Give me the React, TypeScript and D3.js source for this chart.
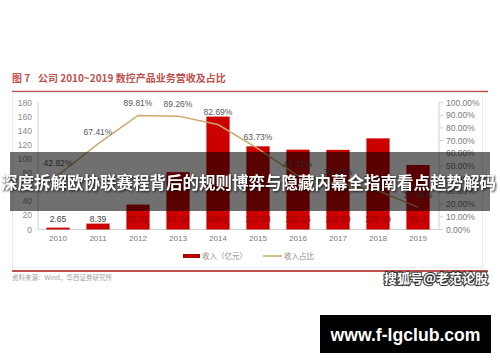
import React from "react";
import * as d3 from "d3";

const years = ["2010", "2011", "2012", "2013", "2014", "2015", "2016", "2017", "2018", "2019"];
const revenue = [2.65, 8.39, 35.31, 81.24, 160.1, 117.88, 113.15, 112.89, 129.19, 91.4];
const share = [0.4282, 0.6741, 0.8981, 0.8926, 0.8269, 0.6373, 0.4231, 0.362, 0.305, 0.176];
const shareLabels = ["42.82%", "67.41%", "89.81%", "89.26%", "82.69%", "63.73%", "42.31%", "36.20%", "30.50%", "17.60%"];
const leftTicks = [0, 20, 40, 60, 80, 100, 120, 140, 160, 180];
const rightTicks = [0, 0.1, 0.2, 0.3, 0.4, 0.5, 0.6, 0.7, 0.8, 0.9, 1.0];

const SANS = "'Liberation Sans', Arial, sans-serif";
const CJK = "'Noto Sans CJK SC', 'Liberation Sans', sans-serif";

export default function App() {
  const x = d3.scaleBand<string>().domain(years).range([38, 438]).paddingInner(0.42).paddingOuter(0.21);
  const yL = d3.scaleLinear().domain([0, 180]).range([229.5, 102.5]);
  const yR = d3.scaleLinear().domain([0, 1]).range([229.5, 102.5]);
  const cx = (d: string) => (x(d) as number) + x.bandwidth() / 2;
  const line = d3
    .line<number>()
    .x((_, i) => cx(years[i]))
    .y((d) => yR(d));

  return (
    <svg width={500} height={362} style={{ position: "absolute", left: 0, top: 0, background: "#fff" }}>
      <rect x={0} y={0} width={500} height={362} fill="#fff" />
      {/* title */}
      <text x={12} y={81.5} fontFamily={CJK} fontSize={10} fontWeight="bold" fill="#c0504d">
        图 7
      </text>
      <text x={38} y={81.5} fontFamily={CJK} fontSize={10} fontWeight="bold" fill="#c0504d">
        公司 2010~2019 数控产品业务营收及占比
      </text>
      <line x1={12} x2={488} y1={91.5} y2={91.5} stroke="#c0504d" strokeWidth={1.6} />
      {/* chart box */}
      <rect x={12.5} y={92.5} width={470} height={175} fill="none" stroke="#ececec" strokeWidth={1} />

      {/* axes */}
      <line x1={38} x2={38} y1={yL(180)} y2={yL(0)} stroke="#d0d0d0" />
      <line x1={439} x2={439} y1={yR(1)} y2={yR(0)} stroke="#d0d0d0" />
      <line x1={38} x2={439} y1={yL(0)} y2={yL(0)} stroke="#d0d0d0" />
      {leftTicks.map((t) => (
        <text key={t} x={32} y={yL(t) + 3} textAnchor="end" fontFamily={SANS} fontSize={8.5} fill="#8c8c8c">
          {t}
        </text>
      ))}
      {rightTicks.map((t) => (
        <g key={t}>
          <line x1={439} x2={443} y1={yR(t)} y2={yR(t)} stroke="#d0d0d0" />
          <text x={446} y={yR(t) + 3} fontFamily={SANS} fontSize={8.5} fill="#7a7a7a">
            {(t * 100).toFixed(2)}%
          </text>
        </g>
      ))}
      {years.map((y) => (
        <text key={y} x={cx(y)} y={241} textAnchor="middle" fontFamily={SANS} fontSize={8} fill="#7a7a7a">
          {y}
        </text>
      ))}

      {/* bars */}
      {revenue.map((v, i) => (
        <rect key={i} x={x(years[i])} y={yL(v)} width={x.bandwidth()} height={yL(0) - yL(v)} fill="#cc0000" />
      ))}
      {revenue.map((v, i) => (
        <text
          key={i}
          x={cx(years[i])}
          y={222}
          textAnchor="middle"
          fontFamily={SANS}
          fontSize={8.5}
          fill={v < 20 ? "#404040" : "#9a0000"}
        >
          {v}
        </text>
      ))}

      {/* line */}
      <path d={line(share) as string} fill="none" stroke="#c9a96a" strokeWidth={1.5} />
      {share.map((v, i) => (
        <text key={i} x={cx(years[i])} y={yR(v) - 9} textAnchor="middle" fontFamily={SANS} fontSize={8.5} fill="#595959">
          {shareLabels[i]}
        </text>
      ))}

      {/* legend */}
      <rect x={183} y={254} width={17} height={4} fill="#b00000" />
      <text x={202} y={259} fontFamily={CJK} fontSize={7.5} fill="#8c8c8c">
        收入（亿元）
      </text>
      <line x1={263} x2={282} y1={256} y2={256} stroke="#c9a96a" strokeWidth={1.5} />
      <text x={284} y={259} fontFamily={CJK} fontSize={7.5} fill="#8c8c8c">
        收入占比
      </text>

      <line x1={12} x2={488} y1={271} y2={271} stroke="#c0504d" strokeWidth={1.8} />
      <text x={12} y={280} fontFamily={CJK} fontSize={6.5} fill="#a0a0a0">
        资料来源：Wind，华西证券研究所
      </text>

      {/* watermark */}
      <text
        x={488}
        y={283}
        textAnchor="end"
        fontFamily={CJK}
        fontSize={13}
        fontWeight="bold"
        fill="#fff"
        stroke="#333"
        strokeWidth={2}
        paintOrder="stroke"
      >
        搜狐号@老范论股
      </text>

      {/* overlay banner */}
      <rect x={10} y={152} width={480} height={59} fill="rgba(0,0,0,0.56)" />
      <text
        x={1}
        y={189}
        fontFamily={CJK}
        fontSize={16.5}
        fontWeight="bold"
        fill="#fff"
        textLength={495}
        lengthAdjust="spacingAndGlyphs"
        style={{ filter: "drop-shadow(1px 1px 1px rgba(0,0,0,0.8))" }}
      >
        深度拆解欧协联赛程背后的规则博弈与隐藏内幕全指南看点趋势解码
      </text>

      {/* site box */}
      <rect x={320} y={315} width={171} height={38} fill="#000" />
      <text x={405.5} y={340.5} textAnchor="middle" fontFamily={SANS} fontSize={18} fontWeight="bold" fill="#fff" textLength={150} lengthAdjust="spacingAndGlyphs">
        www.f-lgclub.com
      </text>
    </svg>
  );
}
